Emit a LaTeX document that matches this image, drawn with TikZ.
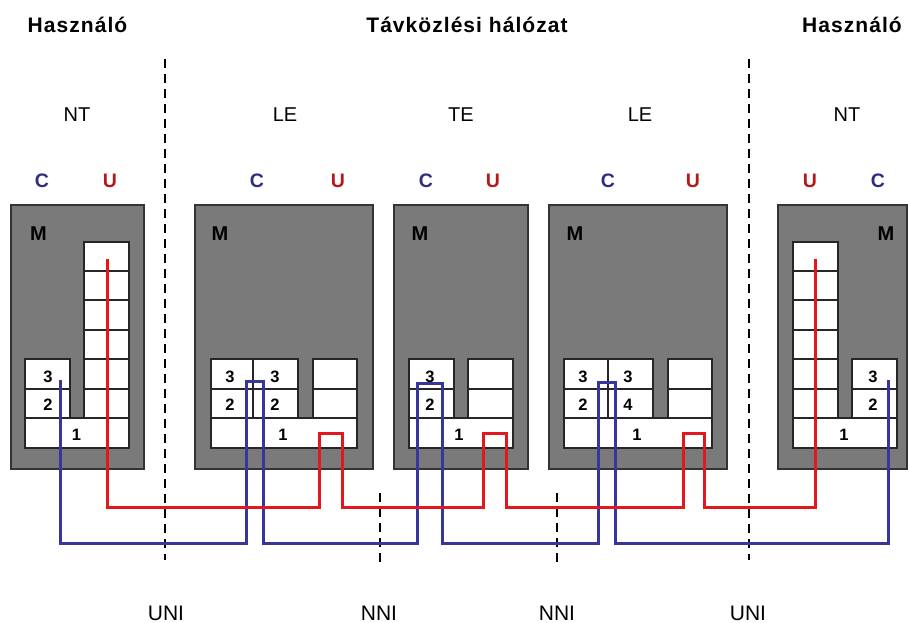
\documentclass[tikz,border=0pt]{standalone}
\usepackage{fontspec}
\setmainfont{Liberation Sans}
\newfontfamily\spacedfont[LetterSpace=5]{Liberation Sans}
\definecolor{boxgray}{RGB}{122,122,122}
\definecolor{cblue}{RGB}{45,45,130}
\definecolor{ured}{RGB}{180,25,25}
\definecolor{redline}{RGB}{225,25,30}
\definecolor{blueline}{RGB}{55,55,155}
\begin{document}
\begin{tikzpicture}[x=1pt,y=-1pt,
  box/.style={draw=black!80, line width=1.4pt, fill=boxgray},
  cell/.style={draw=black!85, line width=1.4pt, fill=white},
  head/.style={anchor=base, inner sep=0pt, font=\spacedfont\fontsize{21}{24}\selectfont\bfseries},
  elem/.style={anchor=base, inner sep=0pt, font=\fontsize{20}{24}\selectfont},
  cl/.style={anchor=base, inner sep=0pt, text=cblue, font=\fontsize{19.5}{22}\selectfont\bfseries},
  ul/.style={anchor=base, inner sep=0pt, text=ured, font=\fontsize{19.5}{22}\selectfont\bfseries},
  ml/.style={anchor=base, inner sep=0pt, font=\fontsize{20}{24}\selectfont\bfseries},
  dl/.style={anchor=base, inner sep=0pt, font=\fontsize{16.5}{20}\selectfont\bfseries},
  iface/.style={anchor=base, inner sep=0pt, font=\fontsize{21}{24}\selectfont},
  sep/.style={draw=black, line width=2pt, dash pattern=on 9pt off 6pt},
  redw/.style={draw=redline, line width=3pt},
  bluew/.style={draw=blueline, line width=3pt}]
\fill[white] (0,0) rectangle (908,623);
\useasboundingbox (0,0) rectangle (908,623);

% headers
\node[head] (h1) at (77.5,33) {Használó};
\node[head] (h2) at (467,33) {Távközlési hálózat};
\node[head] (h3) at (852,33) {Használó};

% element names
\node[elem] (e1) at (77,122) {NT};
\node[elem] (e2) at (285,122) {LE};
\node[elem] (e3) at (461,122) {TE};
\node[elem] (e4) at (640,122) {LE};
\node[elem] (e5) at (847,122) {NT};

% C / U
\node[cl] (c1) at (42,187) {C};
\node[ul] (u1) at (110,187) {U};
\node[cl] (c2) at (257,187) {C};
\node[ul] (u2) at (338,187) {U};
\node[cl] (c3) at (426,187) {C};
\node[ul] (u3) at (493,187) {U};
\node[cl] (c4) at (608,187) {C};
\node[ul] (u4) at (693,187) {U};
\node[ul] (u5) at (810,187) {U};
\node[cl] (c5) at (878,187) {C};

% gray boxes
\draw[box] (11,205) rectangle (144,469);
\draw[box] (195,205) rectangle (373,469);
\draw[box] (394,205) rectangle (528,469);
\draw[box] (549,205) rectangle (727,469);
\draw[box] (778,205) rectangle (907,469);

\node[ml] (m1) at (38.5,240) {M};
\node[ml] (m2) at (220,240) {M};
\node[ml] (m3) at (420,240) {M};
\node[ml] (m4) at (575,240) {M};
\node[ml] (m5) at (886,240) {M};

% left NT cells
\foreach \a/\b in {242/271,271/300,300/330,330/359,359/389,389/418}
  \draw[cell] (84,\a) rectangle (129,\b);
\draw[cell] (25,359) rectangle (70,389);
\draw[cell] (25,389) rectangle (70,418);
\draw[cell] (25,418) rectangle (129,448);
% right NT cells
\foreach \a/\b in {242/271,271/300,300/330,330/359,359/389,389/418}
  \draw[cell] (793,\a) rectangle (838,\b);
\draw[cell] (852,359) rectangle (897,389);
\draw[cell] (852,389) rectangle (897,418);
\draw[cell] (793,418) rectangle (897,448);
% LE left cells
\foreach \x/\y in {211/253,253/298,313/357}{
  \draw[cell] (\x,359) rectangle (\y,389);
  \draw[cell] (\x,389) rectangle (\y,418);}
\draw[cell] (211,418) rectangle (357,448);
% TE cells
\foreach \x/\y in {409/454,468/513}{
  \draw[cell] (\x,359) rectangle (\y,389);
  \draw[cell] (\x,389) rectangle (\y,418);}
\draw[cell] (409,418) rectangle (513,448);
% LE right cells
\foreach \x/\y in {564/608,608/653,668/712}{
  \draw[cell] (\x,359) rectangle (\y,389);
  \draw[cell] (\x,389) rectangle (\y,418);}
\draw[cell] (564,418) rectangle (712,448);

% digits
\node[dl] at (48,382) {3};
\node[dl] at (48,410) {2};
\node[dl] at (76.5,440) {1};
\node[dl] at (230,382) {3};
\node[dl] at (275,382) {3};
\node[dl] at (230,410) {2};
\node[dl] at (275,410) {2};
\node[dl] at (283,440) {1};
\node[dl] at (430,382) {3};
\node[dl] at (430,410) {2};
\node[dl] at (459,440) {1};
\node[dl] at (583,382) {3};
\node[dl] at (628,382) {3};
\node[dl] at (583,410) {2};
\node[dl] at (628,410) {4};
\node[dl] at (637,440) {1};
\node[dl] at (873,382) {3};
\node[dl] at (873,410) {2};
\node[dl] at (844,440) {1};

% separators
\coordinate (s1a) at (165,59);  \coordinate (s1b) at (165,560);
\coordinate (s2a) at (380,493); \coordinate (s2b) at (380,566);
\coordinate (s3a) at (557,493); \coordinate (s3b) at (557,566);
\coordinate (s4a) at (749,59);  \coordinate (s4b) at (749,560);
\draw[sep] (s1a) -- (s1b);
\draw[sep] (s2a) -- (s2b);
\draw[sep] (s3a) -- (s3b);
\draw[sep] (s4a) -- (s4b);

% control (blue) path
\coordinate (bs) at (60,380);
\coordinate (be) at (888,380);
\draw[bluew] (bs) -- (60,543) -- (246,543) -- (246,381) -- (263,381) -- (263,543)
  -- (417,543) -- (417,383) -- (442,383) -- (442,543)
  -- (598,543) -- (598,382) -- (615,382) -- (615,543) -- (888,543) -- (be);

% user (red) path
\coordinate (rs) at (107,259);
\coordinate (re) at (815,259);
\draw[redw] (rs) -- (107,507) -- (319,507) -- (319,433) -- (342,433) -- (342,507)
  -- (483,507) -- (483,433) -- (506,433) -- (506,507)
  -- (683,507) -- (683,433) -- (704,433) -- (704,507) -- (815,507) -- (re);

% interface labels
\node[iface] (i1) at (166,620) {UNI};
\node[iface] (i2) at (379,620) {NNI};
\node[iface] (i3) at (557,620) {NNI};
\node[iface] (i4) at (748,620) {UNI};
\end{tikzpicture}
\end{document}
